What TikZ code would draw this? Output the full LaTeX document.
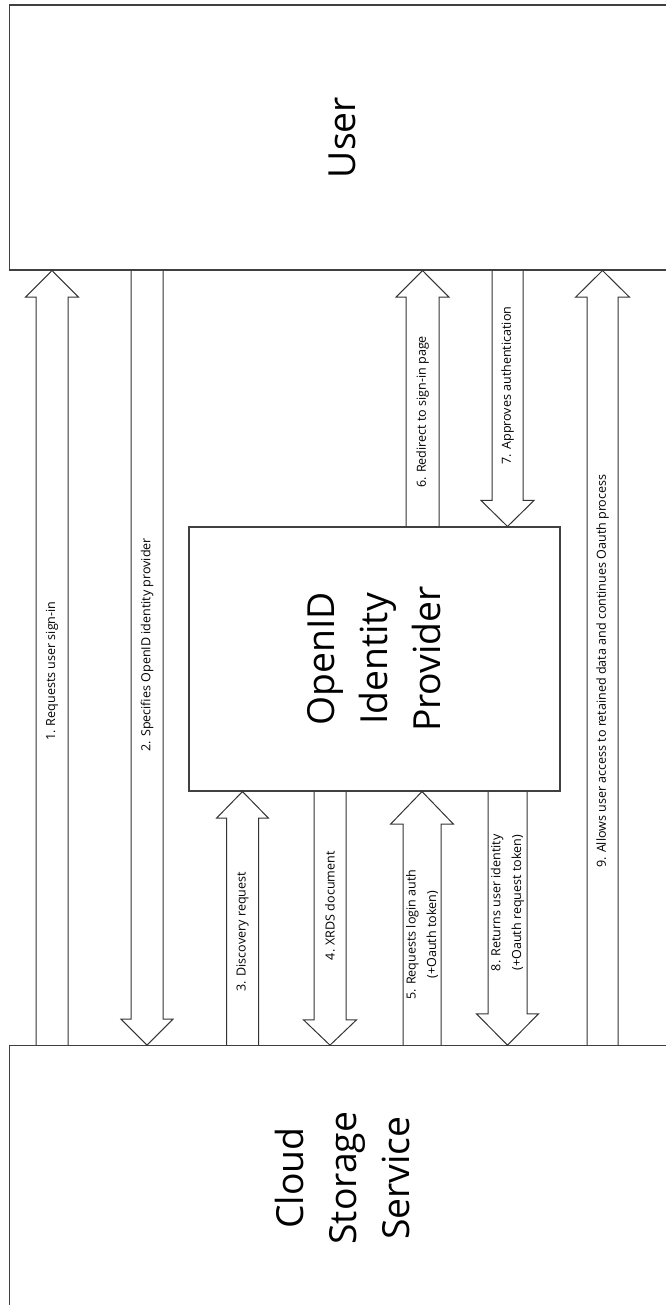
\documentclass[tikz,border=0pt]{standalone}
\usepackage{fontspec}
\setmainfont{Open Sans}
\usetikzlibrary{calc}

% #1 name, #2 x, #3 tail, #4 tip, #5 half shaft, #6 head length, #7 half head, #8 text
\newcommand{\blockarrow}[8]{%
  \coordinate (#1t) at (#2,0 |- #3);
  \coordinate (#1h) at (#2,0 |- #4);
  \coordinate (#1b) at ($(#1h)!#6!(#1t)$);
  \draw[block_line] ($(#1t)+(-#5,0)$) -- ($(#1b)+(-#5,0)$) -- ($(#1b)+(-#7,0)$) -- (#1h)
    -- ($(#1b)+(#7,0)$) -- ($(#1b)+(#5,0)$) -- ($(#1t)+(#5,0)$);
  \node[arrow_text] (#1) at ($(#1t)!0.5!(#1b)$) {#8};
}

\begin{document}
\begin{tikzpicture}[x=0.75pt,y=0.75pt,
  main_box/.style={draw=black!75,line width=0.8pt,inner sep=0pt},
  box_text/.style={rotate=90,align=center,font=\fontsize{28}{39.75}\selectfont},
  block_line/.style={draw=black!80,line width=0.75pt},
  arrow_text/.style={rotate=90,align=center,text=black,font=\fontsize{9.4}{15.4}\selectfont}]
\useasboundingbox (0,0) rectangle (666,-1305);
\clip (0,0) rectangle (666,-1305);
    \node[main_box,minimum width=499.1pt,minimum height=198.75pt,label={[box_text]center:User}] (user) at (342.25,-137.5) {};
    \node[main_box,minimum width=278.25pt,minimum height=198pt,label={[box_text]center:OpenID\\Identity\\Provider}] (openid) at (374.5,-659) {};
    \node[main_box,minimum width=499pt,minimum height=198.75pt,label={[box_text]center:Cloud\\Storage\\Service}] (cloud) at (342.35,-1178.2) {};
\blockarrow{a1}{52}{cloud.north}{user.south}{16}{20pt}{26.5}{1. Requests user sign-in}
\blockarrow{a2}{147}{user.south}{cloud.north}{16}{19.5pt}{26}{2. Specifies OpenID identity provider}
\blockarrow{a3}{242.5}{cloud.north}{openid.south}{16}{20pt}{26}{3. Discovery request}
\blockarrow{a4}{330}{openid.south}{cloud.north}{16}{19pt}{26.5}{4. XRDS document}
\blockarrow{a5}{422}{cloud.north}{openid.south}{19}{24.5pt}{31.5}{5. Requests login auth\\(+Oauth token)}
\blockarrow{a6}{422.5}{openid.north}{user.south}{16.5}{20pt}{26.5}{6. Redirect to sign-in page}
\blockarrow{a7}{507.5}{user.south}{openid.north}{15.5}{19.5pt}{26.5}{7. Approves authentication}
\blockarrow{a8}{507.5}{openid.south}{cloud.north}{19.5}{23.5pt}{31}{8. Returns user identity\\(+Oauth request token)}
\blockarrow{a9}{602.5}{cloud.north}{user.south}{15.5}{20pt}{27}{9. Allows user access to retained data and continues Oauth process}
\end{tikzpicture}
\end{document}
